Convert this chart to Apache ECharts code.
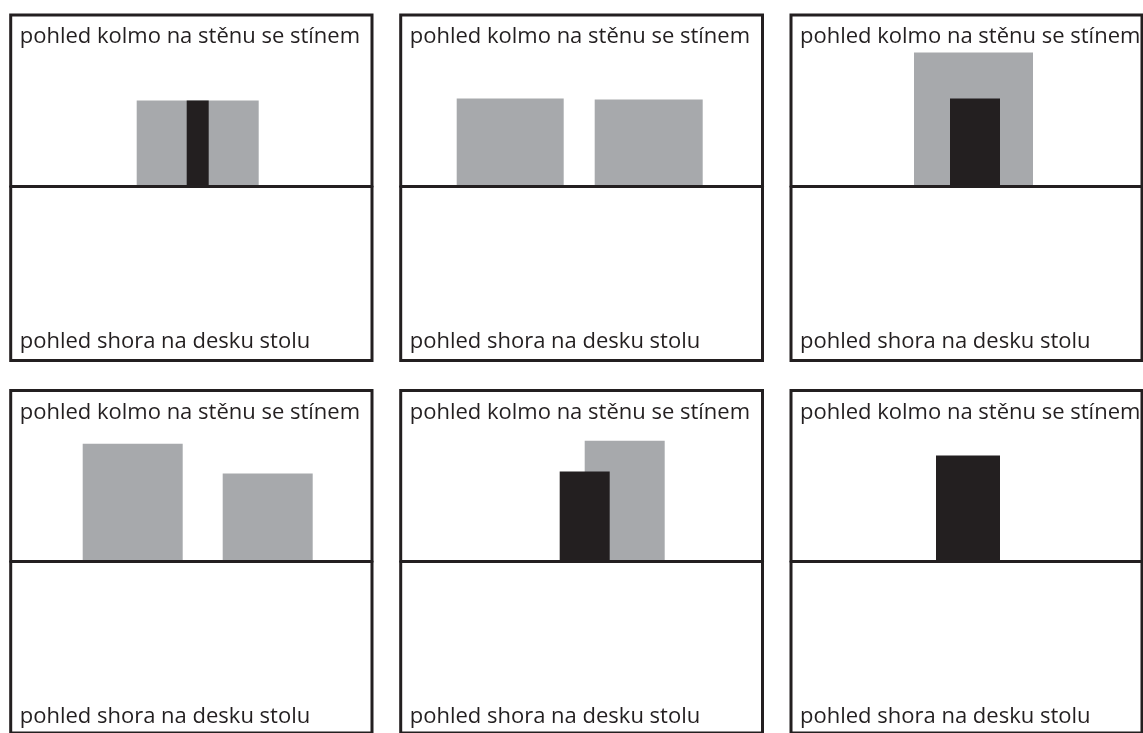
<!DOCTYPE html>
<html>
<head>
<meta charset="utf-8">
<script src="https://cdn.jsdelivr.net/npm/echarts@6/dist/echarts.min.js"></script>
<style>
  html, body { margin: 0; padding: 0; background: #ffffff; }
  #chart { width: 1143px; height: 733px; }
</style>
</head>
<body>
<div id="chart"></div>
<script>
// ---- data (x-from, x-to, height above the table line; units ~ px of the drawing) ----
const topLabel = 'pohled kolmo na stěnu se stínem';
const bottomLabel = 'pohled shora na desku stolu';
const panelIds = ['a', 'b', 'c', 'd', 'e', 'f'];
const grayRects = [
  [[126, 248, 86]],
  [[56, 163, 88], [194, 302, 87]],
  [[123, 242, 134]],
  [[72, 172, 118], [212, 302, 88]],
  [[184, 264, 121]],
  []
];
const blackRects = [
  [[176, 198, 86]],
  [],
  [[159, 209, 88]],
  [],
  [[159, 209, 90]],
  [[145, 209, 106]]
];

// ---- layout ----
const colLeft = [10.7, 400.7, 791];
const colRight = [372, 762.5, 1142];
const rowTop = [15, 390.5];
const rowBottom = [360.5, 735];
const wallH = 171.5;
const GRAY = '#a7a9ac';
const DARK = '#231f20';
const FONT = '22px "Open Sans", sans-serif';

const grids = [], xAxes = [], yAxes = [], series = [], graphics = [];

panelIds.forEach(function (id, i) {
  const c = i % 3, r = Math.floor(i / 3);
  const left = colLeft[c], top = rowTop[r];
  const w = colRight[c] - left, h = rowBottom[r] - top;
  grids.push({
    left: left, top: top, width: w, height: h,
    show: true, borderColor: DARK, borderWidth: 3, backgroundColor: 'transparent'
  });
  xAxes.push({
    gridIndex: i, type: 'value', min: 0, max: w, z: 5,
    axisLine: { show: true, onZero: true, lineStyle: { color: DARK, width: 3 } },
    axisTick: { show: false }, axisLabel: { show: false }, splitLine: { show: false }
  });
  yAxes.push({
    gridIndex: i, type: 'value', min: -(h - wallH), max: wallH,
    axisLine: { show: false }, axisTick: { show: false },
    axisLabel: { show: false }, splitLine: { show: false }
  });
  function rectSeries(data, color, z) {
    return {
      type: 'custom', xAxisIndex: i, yAxisIndex: i, z: z, silent: true,
      data: data,
      renderItem: function (params, api) {
        const p0 = api.coord([api.value(0), api.value(2)]);
        const p1 = api.coord([api.value(1), 0]);
        return {
          type: 'rect',
          shape: { x: p0[0], y: p0[1], width: p1[0] - p0[0], height: p1[1] - p0[1] },
          style: { fill: color }
        };
      }
    };
  }
  series.push(rectSeries(grayRects[i], GRAY, 2));
  series.push(rectSeries(blackRects[i], DARK, 3));
  graphics.push({
    type: 'text', left: left + 9, top: top + 11,
    style: { text: topLabel, font: FONT, fill: DARK }
  });
  graphics.push({
    type: 'text', left: left + 9, top: rowBottom[r] - 29.5,
    style: { text: bottomLabel, font: FONT, fill: DARK }
  });
});

const chart = echarts.init(document.getElementById('chart'));
chart.setOption({
  animation: false,
  backgroundColor: '#ffffff',
  grid: grids,
  xAxis: xAxes,
  yAxis: yAxes,
  series: series,
  graphic: graphics
});
</script>
</body>
</html>
